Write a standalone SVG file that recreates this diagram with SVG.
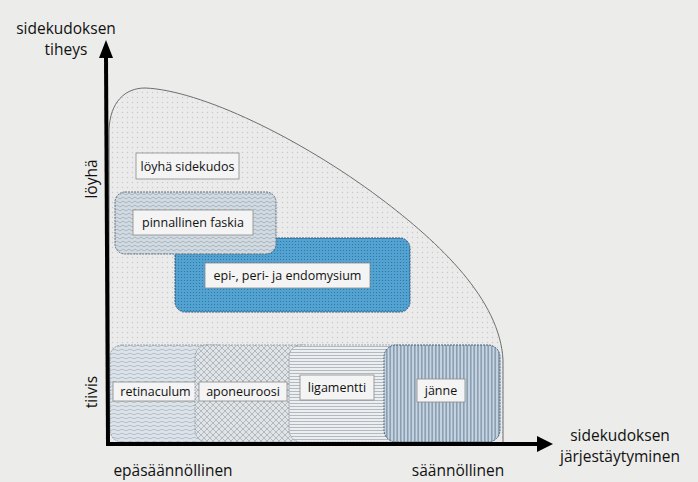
<svg xmlns="http://www.w3.org/2000/svg" width="698" height="482" viewBox="0 0 698 482">
<defs>
<style>
.t{font-family:"Open Sans","Liberation Sans",sans-serif;fill:#111}
.ax{font-size:15.5px}
.lb{font-size:12.5px}
.lbox{fill:#f4f4f4;stroke:#8a8a8a;stroke-width:0.8}
.axis{stroke:#000;stroke-width:4;fill:none}
</style>
<pattern id="dots" width="5" height="5" patternUnits="userSpaceOnUse">
<rect width="5" height="5" fill="#ebebeb"/>
<circle cx="2.5" cy="2.5" r="0.7" fill="#c8c8c8"/>
</pattern>
<pattern id="zig" width="6" height="4" patternUnits="userSpaceOnUse">
<rect width="6" height="4" fill="#d3dbe2"/>
<path d="M0,3 L3,1 L6,3" fill="none" stroke="#9aa9b6" stroke-width="0.8"/>
</pattern>
<pattern id="blue" width="3" height="3" patternUnits="userSpaceOnUse">
<rect width="3" height="3" fill="#52a3d2"/>
<circle cx="1.5" cy="1.5" r="0.6" fill="#2f6f9c"/>
</pattern>
<pattern id="wave" width="8" height="4" patternUnits="userSpaceOnUse">
<rect width="8" height="4" fill="#dde3e8"/>
<path d="M0,2 Q2,0.5 4,2 T8,2" fill="none" stroke="#9fb0be" stroke-width="0.7"/>
</pattern>
<pattern id="cross" width="6" height="6" patternUnits="userSpaceOnUse">
<rect width="6" height="6" fill="#e1e4e7"/>
<path d="M0,0 L6,6 M6,0 L0,6" stroke="#9ea7b0" stroke-width="0.7"/>
</pattern>
<pattern id="hor" width="4" height="3" patternUnits="userSpaceOnUse">
<rect width="4" height="3" fill="#eceef0"/>
<line x1="0" y1="1.5" x2="4" y2="1.5" stroke="#9aa4ae" stroke-width="0.7"/>
</pattern>
<pattern id="ver" width="3.5" height="4" patternUnits="userSpaceOnUse">
<rect width="3.5" height="4" fill="#c9d6e1"/>
<line x1="1.75" y1="0" x2="1.75" y2="4" stroke="#4d6c8a" stroke-width="0.9"/>
</pattern>
</defs>
<rect width="698" height="482" fill="#ececea"/>

<g id="blob">
<path d="M109,443 L109,130 C110,102 125,88 145,88 C200,90 300,138 380,198 C440,243 500,300 503,360 L503,443 Z" fill="url(#dots)" stroke="#6e6e6e" stroke-width="1"/>
</g>

<g id="loyha-sidekudos">
<rect class="lbox" x="136" y="153" width="103" height="26"/>
<text class="t lb" x="187.5" y="170.5" text-anchor="middle">löyhä sidekudos</text>
</g>

<g id="epi">
<rect x="175" y="238" width="235" height="74" rx="10" fill="url(#blue)" stroke="#2f5878" stroke-width="1" stroke-dasharray="2,1"/>
<rect class="lbox" x="205" y="263" width="165" height="25"/>
<text class="t lb" x="287.5" y="280" text-anchor="middle">epi-, peri- ja endomysium</text>
</g>

<g id="pinnallinen-faskia">
<rect x="115" y="192" width="161" height="62" rx="10" fill="url(#zig)" stroke="#5f6f7d" stroke-width="1" stroke-dasharray="2,1"/>
<rect class="lbox" x="133" y="210" width="120" height="25"/>
<text class="t lb" x="193" y="227" text-anchor="middle">pinnallinen faskia</text>
</g>

<g id="retinaculum">
<rect x="110" y="345" width="120" height="97" rx="12" fill="url(#wave)" stroke="#8494a2" stroke-width="0.8" stroke-dasharray="2,1"/>
<rect class="lbox" x="113" y="382" width="85" height="19" stroke="none"/>
<text class="t lb" x="155.5" y="396" text-anchor="middle">retinaculum</text>
</g>

<g id="aponeuroosi">
<rect x="195" y="345" width="120" height="97" rx="12" fill="url(#cross)" stroke="#8a949e" stroke-width="0.8" stroke-dasharray="2,1"/>
<rect class="lbox" x="199" y="382" width="88" height="19" stroke="none"/>
<text class="t lb" x="243" y="396" text-anchor="middle">aponeuroosi</text>
</g>

<g id="ligamentti">
<rect x="289" y="345" width="120" height="97" rx="12" fill="url(#hor)" stroke="#8a949e" stroke-width="0.8" stroke-dasharray="2,1"/>
<rect class="lbox" x="300" y="375" width="74" height="25"/>
<text class="t lb" x="337" y="392" text-anchor="middle">ligamentti</text>
</g>

<g id="janne">
<rect x="384" y="345" width="116" height="97" rx="12" fill="url(#ver)" stroke="#44607a" stroke-width="1" stroke-dasharray="2,1"/>
<rect class="lbox" x="417" y="379" width="48" height="23" stroke="none"/>
<text class="t lb" x="441" y="395" text-anchor="middle">jänne</text>
</g>

<g id="connectors">
<line class="axis" x1="108" y1="446" x2="106" y2="55"/>
<polygon points="99,58 106,40 113,58" fill="#000"/>
<line class="axis" x1="106" y1="444" x2="539" y2="444"/>
<polygon points="537,436 553,444 537,452" fill="#000"/>
</g>

<g id="labels">
<text class="t ax" x="66" y="34" text-anchor="middle">sidekudoksen</text>
<text class="t ax" x="66" y="55" text-anchor="middle">tiheys</text>
<text class="t ax" x="620" y="441" text-anchor="middle">sidekudoksen</text>
<text class="t ax" x="620" y="462" text-anchor="middle">järjestäytyminen</text>
<text class="t ax" x="173" y="476" text-anchor="middle">epäsäännöllinen</text>
<text class="t ax" x="458" y="476" text-anchor="middle">säännöllinen</text>
<text class="t ax" transform="translate(97,179) rotate(-90)" text-anchor="middle">löyhä</text>
<text class="t ax" transform="translate(97,392) rotate(-90)" text-anchor="middle">tiivis</text>
</g>
</svg>
